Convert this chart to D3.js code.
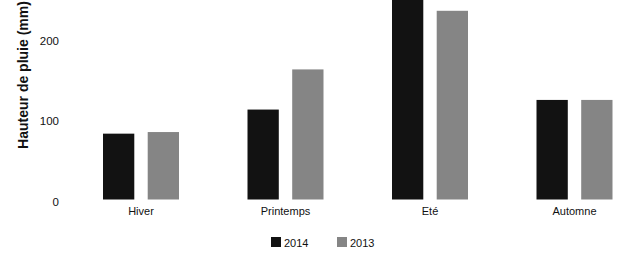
<!DOCTYPE html>
<html><head><meta charset="utf-8">
<script src="https://cdn.jsdelivr.net/npm/d3@7"></script>
<style>body{margin:0;background:#fff}svg{display:block;font-family:"Liberation Sans",Arial,sans-serif}</style>
</head><body>
<svg id="c" width="619" height="259"></svg>
<script>
const categories = ["Hiver","Printemps","Eté","Automne"];
const seriesNames = ["2014","2013"];
const values2014 = [82, 112, 262, 124];
const values2013 = [84, 162, 235, 124];
const yTicks = [0,100,200];

const svg = d3.select("#c");
const y = d3.scaleLinear().domain([0,100]).range([199.5,119.2]);
const x0 = d3.scaleBand().domain(categories).range([68.75,646.75]);
const x1 = d3.scaleBand().domain(seriesNames).range([x0.bandwidth()/2-38, x0.bandwidth()/2+38]).paddingInner(0.3);
const color = d3.scaleOrdinal().domain(seriesNames).range(["#121212","#858585"]);

const data = categories.map((c,i)=>({cat:c, vals:[{s:"2014",v:values2014[i]},{s:"2013",v:values2013[i]}]}));

svg.append("g").selectAll("g").data(data).join("g")
  .attr("transform",d=>`translate(${x0(d.cat)},0)`)
  .selectAll("rect").data(d=>d.vals).join("rect")
  .attr("x",d=>x1(d.s)).attr("width",x1.bandwidth())
  .attr("y",d=>y(d.v)).attr("height",d=>y(0)-y(d.v))
  .attr("fill",d=>color(d.s));

// y axis
const ya = d3.axisLeft(y).tickValues(yTicks).tickSize(0).tickPadding(0);
const yg = svg.append("g").attr("transform","translate(59,2)").call(ya);
yg.select(".domain").remove();
yg.selectAll("text").attr("font-size",11.5).attr("fill","#111").attr("font-family","Liberation Sans, Arial, sans-serif");

// x axis
const xa = d3.axisBottom(x0).tickSize(0).tickPadding(0);
const xg = svg.append("g").attr("transform","translate(0,207)").call(xa);
xg.select(".domain").remove();
xg.selectAll("text").attr("font-size",11).attr("fill","#111").attr("font-family","Liberation Sans, Arial, sans-serif");

// y title
svg.append("text").attr("transform","translate(28,75) rotate(-90)")
  .attr("text-anchor","middle").attr("font-size",14).attr("font-weight","bold").attr("fill","#111")
  .text("Hauteur de pluie (mm)");

// legend
const legX = [271,337];
const lg = svg.append("g").selectAll("g").data(seriesNames).join("g")
  .attr("transform",(d,i)=>`translate(${legX[i]},237)`);
lg.append("rect").attr("width",10).attr("height",10).attr("fill",d=>color(d));
lg.append("text").attr("x",13).attr("y",9.5).attr("font-size",11).attr("fill","#111").text(d=>d);
</script>
</body></html>
